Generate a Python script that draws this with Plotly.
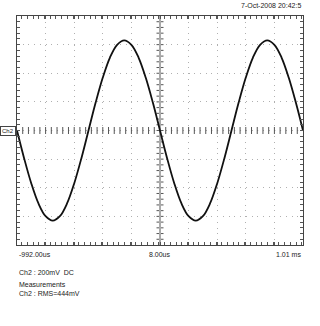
import plotly.graph_objects as go

# time axis in microseconds, voltage in mV
time_us = [-992 + 50 * k for k in range(41)]
ch2_mv = [0, -195, -370, -510, -599, -630, -599, -510, -370, -195,
          0, 195, 370, 510, 599, 630, 599, 510, 370, 195,
          0, -195, -370, -510, -599, -630, -599, -510, -370, -195,
          0, 195, 370, 510, 599, 630, 599, 510, 370, 195, 0]

x_labels = ["-992.00us", "8.00us", "1.01 ms"]
x_label_pos = [-992, 8, 1008]
timestamp = "7-Oct-2008 20:42:5"
info_lines = ["Ch2 : 200mV  DC", "Measurements", "Ch2 : RMS=444mV"]
info_px_y = [272, 284, 293]

X0, X1 = -992, 1008
Y0, Y1 = -800, 800
FONT = "Liberation Sans"
GRAY = "#555555"
TXT = "#222222"

fig = go.Figure()

# center cross ticks
cx_ticks = [X0 + 40 * i for i in range(1, 50)]
cy_ticks = [Y0 + 40 * i for i in range(1, 40)]
fig.add_trace(go.Scatter(x=[X0, X1], y=[0, 0], mode="lines",
                         line=dict(color="#b0b0b0", width=1, dash="1px,4.72px"),
                         hoverinfo="skip", showlegend=False))
fig.add_trace(go.Scatter(x=cx_ticks, y=[0] * len(cx_ticks), mode="markers",
                         marker=dict(symbol="line-ns", size=5, line=dict(color=GRAY, width=1)),
                         hoverinfo="skip", showlegend=False))
fig.add_trace(go.Scatter(x=[8] * len(cy_ticks), y=cy_ticks, mode="markers",
                         marker=dict(symbol="line-ew", size=5, line=dict(color=GRAY, width=1)),
                         hoverinfo="skip", showlegend=False))
# center vertical line
fig.add_trace(go.Scatter(x=[8, 8], y=[Y0, Y1], mode="lines",
                         line=dict(color="#aaaaaa", width=2),
                         hoverinfo="skip", showlegend=False))

# waveform
fig.add_trace(go.Scatter(x=time_us, y=ch2_mv, mode="lines",
                         line=dict(color="#111111", width=1.8, shape="spline", smoothing=1.0),
                         showlegend=False))

# trigger marker
fig.add_trace(go.Scatter(x=[8], y=[830], mode="markers", cliponaxis=False,
                         marker=dict(symbol="triangle-down", size=6, color="#222222"),
                         hoverinfo="skip", showlegend=False))

axis_common = dict(showline=True, linecolor="#444444", linewidth=1, mirror="ticks",
                   ticks="inside", ticklen=3, tickcolor=GRAY,
                   showgrid=True, gridcolor="#b0b0b0", griddash="1px,4.72px", gridwidth=1,
                   zeroline=False, showticklabels=False,
                   minor=dict(ticks="inside", ticklen=3, tickcolor=GRAY, showgrid=False))

fig.update_xaxes(range=[X0, X1], dtick=200, tick0=X0, minor_dtick=40, **axis_common)
fig.update_yaxes(range=[Y0, Y1], dtick=200, tick0=Y0, minor_dtick=40, **axis_common)

plot_h = 326 - 16 - 81
ann = []
ann.append(dict(x=1, y=1, xref="paper", yref="paper", xanchor="right", yanchor="bottom",
                yshift=5, text=timestamp, showarrow=False, font=dict(family=FONT, size=7, color=TXT)))
anchors = ["left", "center", "right"]
for lab, pos, a in zip(x_labels, x_label_pos, anchors):
    ann.append(dict(x=pos, y=0, xref="x", yref="paper", xanchor=a, yanchor="top", yshift=-4,
                    text=lab, showarrow=False, font=dict(family=FONT, size=7, color=TXT)))
for t, yy in zip(info_lines, info_px_y):
    ann.append(dict(x=0, y=(245 - yy) / plot_h, xref="paper", yref="paper", xanchor="left",
                    yanchor="middle", text=t, showarrow=False,
                    font=dict(family=FONT, size=7, color=TXT)))
# Ch2 marker on left
ann.append(dict(x=0, y=0, xref="paper", yref="y", xanchor="right", yanchor="middle", xshift=-1,
                text="Ch2", showarrow=False, font=dict(family=FONT, size=6, color=TXT),
                bordercolor="#444", borderwidth=1, borderpad=1, bgcolor="white"))

fig.update_layout(width=320, height=326, margin=dict(l=17, r=17, t=16, b=81),
                  paper_bgcolor="white", plot_bgcolor="white", showlegend=False,
                  annotations=ann)

fig.write_html("out.html")
